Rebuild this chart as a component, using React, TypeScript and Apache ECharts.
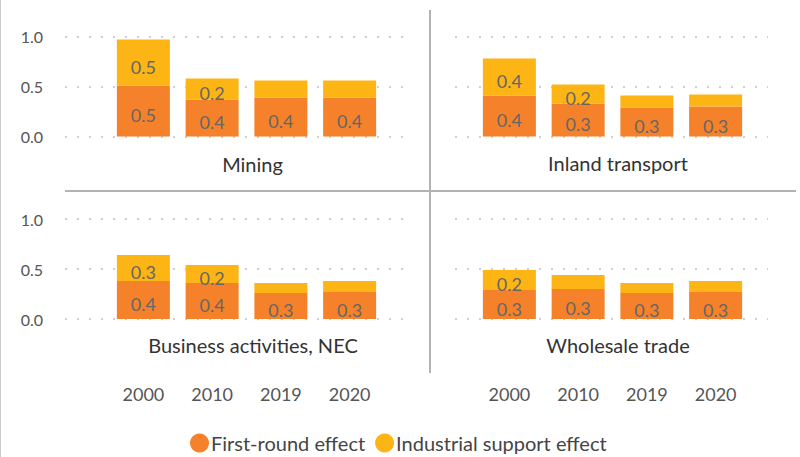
import React, { useEffect, useRef } from "react";
import * as echarts from "echarts";

const years = ["2000", "2010", "2019", "2020"];
const panels = ["Mining", "Inland transport", "Business activities, NEC", "Wholesale trade"];
const yTicks = [0, 0.5, 1.0];

const miningFirst = [0.51, 0.37, 0.39, 0.39];
const miningSupport = [0.46, 0.21, 0.17, 0.17];
const inlandFirst = [0.41, 0.33, 0.29, 0.3];
const inlandSupport = [0.37, 0.19, 0.12, 0.12];
const businessFirst = [0.38, 0.36, 0.26, 0.27];
const businessSupport = [0.26, 0.18, 0.1, 0.11];
const wholesaleFirst = [0.29, 0.3, 0.26, 0.27];
const wholesaleSupport = [0.2, 0.14, 0.1, 0.11];

const firstSets = [miningFirst, inlandFirst, businessFirst, wholesaleFirst];
const supportSets = [miningSupport, inlandSupport, businessSupport, wholesaleSupport];

const ORANGE = "#F5822A";
const YELLOW = "#FDB415";
const FONT = "Lato";

export default function App() {
  const ref = useRef<HTMLDivElement>(null);
  useEffect(() => {
    if (!ref.current) return;
    const chart = echarts.init(ref.current, undefined, { renderer: "svg" });

    const rows = [36.5, 219];
    const dotGrids = [
      { left: 65, right: 396 },
      { left: 455, right: 32 },
    ];
    const barGrids = [
      { left: 109, right: 416 },
      { left: 475, right: 50 },
    ];
    const grids: any[] = [];
    const xAxes: any[] = [];
    const yAxes: any[] = [];
    const series: any[] = [];

    // dotted grids (0..3)
    for (let r = 0; r < 2; r++) {
      for (let c = 0; c < 2; c++) {
        const idx = grids.length;
        grids.push({ ...dotGrids[c], top: rows[r], height: 100 });
        xAxes.push({ type: "value", gridIndex: idx, show: false, min: 0, max: 1 });
        yAxes.push({
          type: "value",
          gridIndex: idx,
          min: yTicks[0],
          max: yTicks[yTicks.length - 1],
          interval: 0.5,
          axisLine: { show: false },
          axisTick: { show: false },
          axisLabel: {
            show: c === 0,
            margin: 22,
            color: "#555",
            fontFamily: FONT,
            fontSize: 16,
            formatter: (v: number) => v.toFixed(1),
          },
          splitLine: {
            show: true,
            lineStyle: { color: "#cfcfcf", width: 2, type: [2, 10] },
          },
        });
      }
    }
    // bar grids (4..7)
    for (let r = 0; r < 2; r++) {
      for (let c = 0; c < 2; c++) {
        const idx = grids.length;
        const p = r * 2 + c;
        grids.push({ ...barGrids[c], top: rows[r], height: 100 });
        xAxes.push({
          type: "category",
          gridIndex: idx,
          data: years,
          axisLine: { show: false },
          axisTick: { show: false },
          axisLabel: {
            show: r === 1,
            margin: 66,
            color: "#555",
            fontFamily: FONT,
            fontSize: 18,
          },
        });
        yAxes.push({ type: "value", gridIndex: idx, min: 0, max: 1, show: false });
        const lbl = {
          show: true,
          position: "inside",
          color: "#666",
          fontFamily: FONT,
          fontSize: 18,
          offset: [0, 4],
        };
        series.push({
          name: "First-round effect",
          type: "bar",
          stack: "p" + p,
          xAxisIndex: idx,
          yAxisIndex: idx,
          barWidth: 53,
          itemStyle: { color: ORANGE },
          label: { ...lbl, formatter: (d: any) => d.value.toFixed(1) },
          data: firstSets[p],
        });
        series.push({
          name: "Industrial support effect",
          type: "bar",
          stack: "p" + p,
          xAxisIndex: idx,
          yAxisIndex: idx,
          barWidth: 53,
          itemStyle: { color: YELLOW },
          label: {
            ...lbl,
            formatter: (d: any) => (d.value >= 0.175 ? d.value.toFixed(1) : ""),
          },
          data: supportSets[p],
        });
      }
    }

    const titlePos = [
      [252.5, 164],
      [618, 163],
      [253, 345],
      [618, 345],
    ];

    chart.setOption({
      animation: false,
      backgroundColor: "#fff",
      textStyle: { fontFamily: FONT },
      grid: grids,
      xAxis: xAxes,
      yAxis: yAxes,
      series,
      legend: {
        data: ["First-round effect", "Industrial support effect"],
        left: 190,
        top: 432,
        padding: 0,
        icon: "circle",
        itemWidth: 19,
        itemHeight: 19,
        itemGap: 10,
        textStyle: {
          color: "#444",
          fontFamily: FONT,
          fontSize: 20,
          lineHeight: 22,
          padding: [0, 0, 0, -3],
        },
      },
      graphic: [
        { type: "line", shape: { x1: 0.5, y1: 0, x2: 0.5, y2: 457 }, style: { stroke: "#cccccc", lineWidth: 1 } },
        { type: "line", shape: { x1: 430, y1: 10, x2: 430, y2: 373 }, style: { stroke: "#b3b3b3", lineWidth: 2 } },
        { type: "line", shape: { x1: 65, y1: 191, x2: 796, y2: 191 }, style: { stroke: "#b3b3b3", lineWidth: 2 } },
        ...panels.map((t, i) => ({
          type: "text",
          x: titlePos[i][0],
          y: titlePos[i][1],
          style: {
            text: t,
            fill: "#333",
            fontFamily: FONT,
            fontSize: 20,
            textAlign: "center",
            textVerticalAlign: "middle",
          },
        })),
      ],
    });
    return () => chart.dispose();
  }, []);
  return (
    <div
      ref={ref}
      style={{ position: "fixed", left: 0, top: 0, width: 800, height: 457 }}
    />
  );
}
